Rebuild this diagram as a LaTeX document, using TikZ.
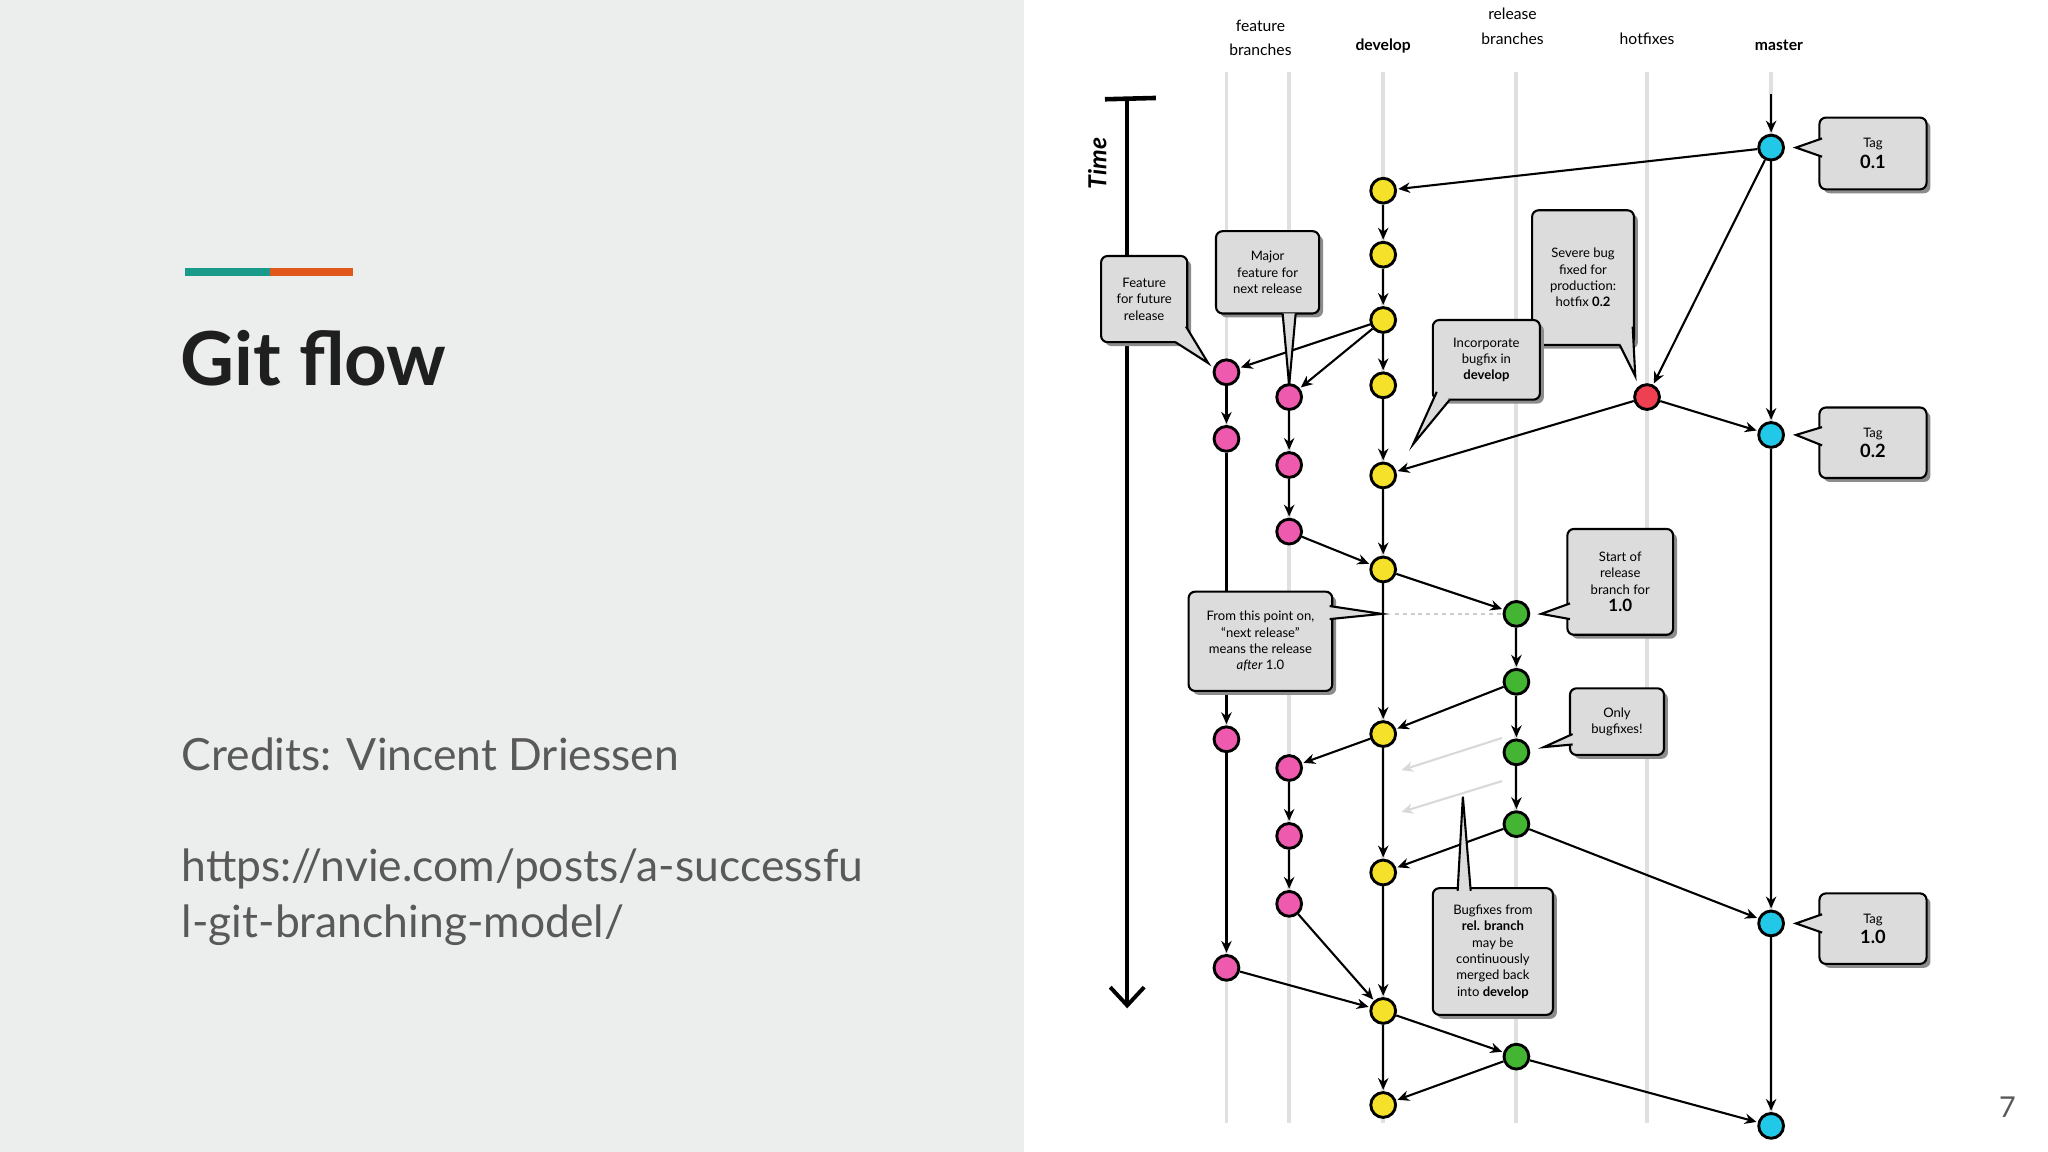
\documentclass[tikz,border=0pt]{standalone}
\usepackage{fontspec}
\setmainfont{Lato}
\usetikzlibrary{arrows.meta}
\definecolor{bgl}{HTML}{ECEEED}
\definecolor{teal1}{HTML}{1A9A8A}
\definecolor{orng}{HTML}{E0581C}
\definecolor{txtg}{HTML}{595959}
\definecolor{cy}{HTML}{22C8E8}
\definecolor{ye}{HTML}{F5E12A}
\definecolor{pk}{HTML}{EE5AAE}
\definecolor{gr}{HTML}{44B533}
\definecolor{rd}{HTML}{EE4050}
\definecolor{cfill}{HTML}{DCDCDC}
\begin{document}
\begin{tikzpicture}[x=1pt,y=-1pt,
 cmt/.style={circle,draw=black,line width=2.2pt,minimum size=19pt,inner sep=0pt},
 e/.style={-{Stealth[length=9pt,width=8pt]},line width=1.6pt,shorten >=1pt},
 lane/.style={draw=black!12,line width=3pt},
 co/.style={draw=black,line width=1.6pt,fill=cfill,rounded corners=5pt},
 ct/.style={font=\fontsize{10}{12.5}\selectfont,align=center},
 hd/.style={font=\fontsize{12}{19}\selectfont,align=center}]
\useasboundingbox (0,0) rectangle (1568,882);
\fill[bgl] (0,0) rectangle (784,882);
\fill[white] (784,0) rectangle (1568,882);
\fill[teal1] (142,205) rectangle (207,211);
\fill[orng] (207,205) rectangle (270,211);
\node[anchor=base west,inner sep=0,font=\fontsize{57}{60}\selectfont\bfseries,text=black!88] (title) at (138,295) {Git flow};
\node[anchor=base west,inner sep=0,font=\fontsize{34}{40}\selectfont,text=txtg] (cred) at (139,590) {Credits: Vincent Driessen};
\node[anchor=base west,inner sep=0,font=\fontsize{34}{40}\selectfont,text=txtg] (url1) at (139,675) {https://nvie.com/posts/a-successfu};
\node[anchor=base west,inner sep=0,font=\fontsize{34}{40}\selectfont,text=txtg] (url2) at (139,718) {l-git-branching-model/};
\node[font=\fontsize{22}{24}\selectfont,text=txtg] (pg) at (1537,848) {7};
% lanes
\foreach \x in {939,987,1059,1161,1261,1356} \draw[lane] (\x,55) -- (\x,860);
% headers
\node[hd] (h1) at (965,29) {feature\\branches};
\node[hd,font=\fontsize{12}{19}\selectfont\bfseries] (h2) at (1059,35) {develop};
\node[hd] (h3) at (1158,20) {release\\branches};
\node[hd] (h4) at (1261,30) {hotfixes};
\node[hd,font=\fontsize{12}{19}\selectfont\bfseries] (h5) at (1362,35) {master};
% time
\coordinate (t0) at (863,75); \coordinate (t1) at (863,772);
\draw[line width=3.5pt] (846,76) -- (885,75);
\draw[line width=3pt,-{Straight Barb[length=14pt,width=26pt,line width=3pt]}] (t0) -- (t1);
\node[rotate=90,font=\fontsize{19}{20}\selectfont\bfseries\itshape] (time) at (840,125) {Time};
% nodes
\foreach \n/\y in {1/113,2/333,3/707,4/862} \node[cmt,fill=cy] (m\n) at (1356,\y) {};
\foreach \n/\y in {1/146,2/195,3/245,4/295,5/364,6/436,7/562,8/668,9/774,10/846} \node[cmt,fill=ye] (d\n) at (1059,\y) {};
\foreach \n/\y in {1/285,2/336,3/566,4/741} \node[cmt,fill=pk] (f\n) at (939,\y) {};
\foreach \n/\y in {1/304,2/356,3/407,4/588,5/640,6/692} \node[cmt,fill=pk] (g\n) at (987,\y) {};
\node[cmt,fill=rd] (hx) at (1261,304) {};
\foreach \n/\y in {1/470,2/522,3/576,4/631,5/809} \node[cmt,fill=gr] (r\n) at (1161,\y) {};
\coordinate (mtop) at (1356,72);
% edges
\draw[e] (mtop) -- (m1);
\draw[e] (m1) -- (d1);
\draw[e] (m1) -- (m2); \draw[e] (m2) -- (m3); \draw[e] (m3) -- (m4);
\draw[e] (m1) -- (hx);
\foreach \a/\b in {1/2,2/3,3/4,4/5,5/6,6/7,7/8,8/9,9/10} \draw[e] (d\a) -- (d\b);
\draw[e] (d3) -- (f1); \draw[e] (d3) -- (g1);
\draw[e] (f1) -- (f2); \draw[e] (f2) -- (f3); \draw[e] (f3) -- (f4);
\draw[e] (g1) -- (g2); \draw[e] (g2) -- (g3); \draw[e] (g3) -- (d6);
\draw[e] (hx) -- (d5); \draw[e] (hx) -- (m2);
\draw[e] (d6) -- (r1);
\draw[black!20,line width=1.5pt,dashed] (1068,470) -- (1150,470);
\foreach \a/\b in {1/2,2/3,3/4} \draw[e] (r\a) -- (r\b);
\draw[e] (r2) -- (d7); \draw[e] (r4) -- (d8);
\coordinate (p1) at (1150,565); \coordinate (p2) at (1072,590);
\coordinate (p3) at (1150,598); \coordinate (p4) at (1072,622);
\draw[e,black!15] (p1) -- (p2); \draw[e,black!15] (p3) -- (p4);
\draw[e] (d7) -- (g4);
\draw[e] (g4) -- (g5); \draw[e] (g5) -- (g6); \draw[e] (g6) -- (d9);
\draw[e] (f4) -- (d9);
\draw[e] (r4) -- (m3); \draw[e] (d9) -- (r5); \draw[e] (r5) -- (d10); \draw[e] (r5) -- (m4);
% callouts
\newcommand\callout[7]{%
 \fill[black!45,rounded corners=5pt] (#1+3,#2+3) rectangle (#3+3,#4+3);
 \draw[co] (#1,#2) rectangle (#3,#4);
 \draw[line width=1.6pt,fill=cfill,line join=miter] #6;
 \node[ct] (#7) at ({(#1+#3)/2},{(#2+#4)/2}) {#5};}
\callout{1393}{90}{1475}{145}{Tag\\[3pt]{\fontsize{14}{14}\selectfont\bfseries 0.1}}{(1395,106) -- (1375,113) -- (1395,120)}{c1}
\callout{1393}{312}{1475}{366}{Tag\\[3pt]{\fontsize{14}{14}\selectfont\bfseries 0.2}}{(1395,327) -- (1375,333) -- (1395,341)}{c2}
\callout{1393}{684}{1475}{738}{Tag\\[3pt]{\fontsize{14}{14}\selectfont\bfseries 1.0}}{(1395,700) -- (1375,707) -- (1395,714)}{c3}
\callout{843}{196}{909}{262}{Feature\\for future\\release}{(900,262) -- (925,278) -- (908,250)}{c4}
\callout{931}{177}{1010}{240}{Major\\feature for\\next release}{(982,240) -- (987,295) -- (992,240)}{c5}
\callout{1173}{161}{1251}{264}{Severe bug\\fixed for\\production:\\hotfix \textbf{0.2}}{(1240,264) -- (1252,288) -- (1250,250)}{c6}
\callout{1097}{245}{1179}{306}{Incorporate\\bugfix in\\\textbf{develop}}{(1100,300) -- (1082,340) -- (1110,306)}{c7}
\callout{1200}{405}{1281}{486}{Start of\\release\\branch for\\[1pt]{\fontsize{13}{14}\selectfont\bfseries 1.0}}{(1202,462) -- (1180,470) -- (1202,474)}{c8}
\callout{910}{453}{1020}{529}{From this point on,\\“next release”\\means the release\\\textit{after} 1.0}{(1018,464) -- (1058,470) -- (1018,474)}{c9}
\callout{1202}{527}{1274}{578}{Only\\bugfixes!}{(1204,562) -- (1182,572) -- (1204,570)}{c10}
\callout{1097}{680}{1189}{777}{Bugfixes from\\\textbf{rel. branch}\\may be\\continuously\\merged back\\into \textbf{develop}}{(1116,682) -- (1120,610) -- (1126,682)}{c11}
\end{tikzpicture}
\end{document}
